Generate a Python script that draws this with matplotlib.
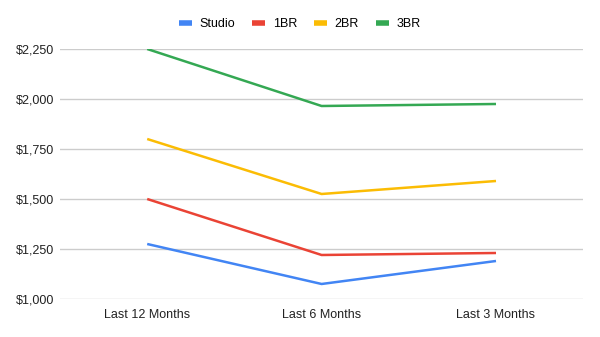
import matplotlib
matplotlib.use("Agg")
import matplotlib.pyplot as plt
from matplotlib.ticker import FuncFormatter

# ---- data
periods = ["Last 12 Months", "Last 6 Months", "Last 3 Months"]
studio = [1275, 1075, 1190]
br1 = [1500, 1220, 1230]
br2 = [1800, 1525, 1590]
br3 = [2250, 1965, 1975]

series = [("Studio", studio, "#4285f4"),
          ("1BR", br1, "#ea4335"),
          ("2BR", br2, "#fbbc04"),
          ("3BR", br3, "#34a853")]

plt.rcParams["font.family"] = ["Liberation Sans", "DejaVu Sans"]

fig = plt.figure(figsize=(6, 3.37), dpi=100)
ax = fig.add_axes([0.1, 0.1128, 0.872, 0.7418])

x = range(len(periods))
for name, vals, col in series:
    ax.plot(x, vals, color=col, linewidth=1.8, label=name, solid_capstyle="butt")

ax.set_xlim(-0.5, 2.5)
ax.set_ylim(1000, 2250)
ax.set_yticks([1000, 1250, 1500, 1750, 2000, 2250])
ax.yaxis.set_major_formatter(FuncFormatter(lambda v, p: "${:,.0f}".format(v)))
ax.set_xticks(list(x))
ax.set_xticklabels(periods)
ax.tick_params(axis="both", length=0, labelsize=9, colors="#222222")
ax.tick_params(axis="y", pad=4)
ax.tick_params(axis="x", pad=7)
ax.grid(axis="y", color="#cccccc", linewidth=1)
ax.set_axisbelow(True)
for s in ax.spines.values():
    s.set_visible(False)

leg = fig.legend(loc="center", bbox_to_anchor=(0.5, 0.928), ncol=4, frameon=False,
                 fontsize=9, handlelength=1.0, handletextpad=0.65, columnspacing=1.35)
for h in leg.get_lines():
    h.set_linewidth(4)

fig.savefig("out.png", dpi=100)
